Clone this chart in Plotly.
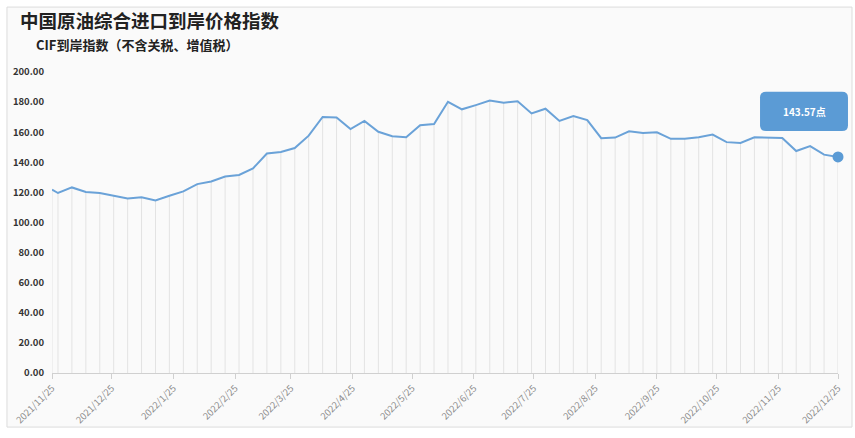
import plotly.graph_objects as go
import pandas as pd

# ---- data ----
dates = ["2021-11-25"] + [d.strftime("%Y-%m-%d") for d in pd.date_range("2021-11-28", "2022-12-25", freq="7D")]
values = [121.8, 119.6, 123.3, 120.3, 119.6, 117.8, 115.9, 116.8, 114.6, 117.8,
          120.7, 125.5, 127.2, 130.5, 131.6, 135.9, 145.8, 146.8, 149.5, 157.7,
          170.1, 169.7, 162.1, 167.5, 160.3, 157.3, 156.6, 164.7, 165.4, 180.2,
          175.2, 178.0, 181.0, 179.5, 180.6, 172.5, 175.6, 167.5, 170.8, 168.0,
          156.0, 156.4, 160.6, 159.5, 159.9, 155.6, 155.6, 156.6, 158.4, 153.4,
          152.9, 156.6, 156.2, 156.2, 147.5, 150.8, 145.1, 143.57]
tick_dates = ["2021-11-25", "2021-12-25", "2022-01-25", "2022-02-25", "2022-03-25",
              "2022-04-25", "2022-05-25", "2022-06-25", "2022-07-25", "2022-08-25",
              "2022-09-25", "2022-10-25", "2022-11-25", "2022-12-25"]
tick_labels = ["2021/11/25", "2021/12/25", "2022/1/25", "2022/2/25", "2022/3/25",
               "2022/4/25", "2022/5/25", "2022/6/25", "2022/7/25", "2022/8/25",
               "2022/9/25", "2022/10/25", "2022/11/25", "2022/12/25"]
y_ticks = [0, 20, 40, 60, 80, 100, 120, 140, 160, 180, 200]
title = "中国原油综合进口到岸价格指数"
subtitle = "CIF到岸指数（不含关税、增值税）"
unit = "点"

LINE = "#6aa2d8"
CALLOUT = "#5b9bd5"
FONT = "Noto Sans CJK SC"

fig = go.Figure()

# drop lines from each point to the axis
fig.add_trace(go.Scatter(
    x=dates, y=values, mode="markers", marker=dict(size=0.1, opacity=0),
    error_y=dict(type="data", symmetric=False, array=[0] * len(values),
                 arrayminus=values, thickness=1, width=0, color="#e3e3e3"),
    hoverinfo="skip", showlegend=False, cliponaxis=False))

# main line
fig.add_trace(go.Scatter(
    x=dates, y=values, mode="lines", line=dict(color=LINE, width=2),
    showlegend=False, cliponaxis=False))

# last point marker
fig.add_trace(go.Scatter(
    x=[dates[-1]], y=[values[-1]], mode="markers",
    marker=dict(color=CALLOUT, size=11, line=dict(width=0)),
    showlegend=False, cliponaxis=False))

# card background / border
fig.add_shape(type="rect", xref="paper", yref="paper",
              x0=-0.0573, x1=1.0178, y0=-0.1797, y1=1.2157,
              fillcolor="#fafafa", line=dict(color="#dcdcdc", width=1), layer="below")

# rounded callout box
x0, x1, y0, y1 = 0.9008, 1.0127, 0.8039, 0.9346
rx, ry = 0.0076, 0.0196
path = (f"M {x0+rx},{y0} L {x1-rx},{y0} Q {x1},{y0} {x1},{y0+ry} "
        f"L {x1},{y1-ry} Q {x1},{y1} {x1-rx},{y1} L {x0+rx},{y1} "
        f"Q {x0},{y1} {x0},{y1-ry} L {x0},{y0+ry} Q {x0},{y0} {x0+rx},{y0} Z")
fig.add_shape(type="path", xref="paper", yref="paper", path=path,
              fillcolor=CALLOUT, line=dict(width=0), layer="above")
fig.add_annotation(xref="paper", yref="paper", x=(x0 + x1) / 2, y=(y0 + y1) / 2,
                   xanchor="center", yanchor="middle",
                   text=f"<b>{values[-1]:.2f}{unit}</b>", showarrow=False,
                   font=dict(color="white", size=10, family=FONT))

# titles
fig.add_annotation(xref="paper", yref="paper", x=-0.0433, y=1.224, xanchor="left", yanchor="top",
                   text=f"<b>{title}</b>", showarrow=False,
                   font=dict(size=18.5, color="#222", family=FONT))
fig.add_annotation(xref="paper", yref="paper", x=-0.0229, y=1.130, xanchor="left", yanchor="top",
                   text=f"<b>{subtitle}</b>", showarrow=False,
                   font=dict(size=13, color="#222", family=FONT))

fig.update_layout(
    width=855, height=438,
    margin=dict(l=52, r=17, t=72, b=60),
    paper_bgcolor="white", plot_bgcolor="rgba(0,0,0,0)",
    font=dict(family=FONT),
    xaxis=dict(type="date", range=[dates[0], dates[-1]],
               tickmode="array", tickvals=tick_dates, ticktext=tick_labels,
               tickangle=-45, tickfont=dict(size=9.5, color="#8a8a8a"),
               ticks="outside", ticklen=5, tickcolor="#d0d0d0",
               showgrid=False, showline=True, linecolor="#d0d0d0", linewidth=1,
               zeroline=False),
    yaxis=dict(range=[0, 200], tickmode="array", tickvals=y_ticks,
               tickformat=".2f", tickfont=dict(size=9.5, color="#333", family=FONT, weight="bold"),
               showgrid=False, zeroline=False, showline=False, ticks="", ticklabelstandoff=7),
)

fig.write_html("out.html", config={"displayModeBar": False},
               post_script="document.body.style.margin='0';document.body.style.overflow='hidden';")
